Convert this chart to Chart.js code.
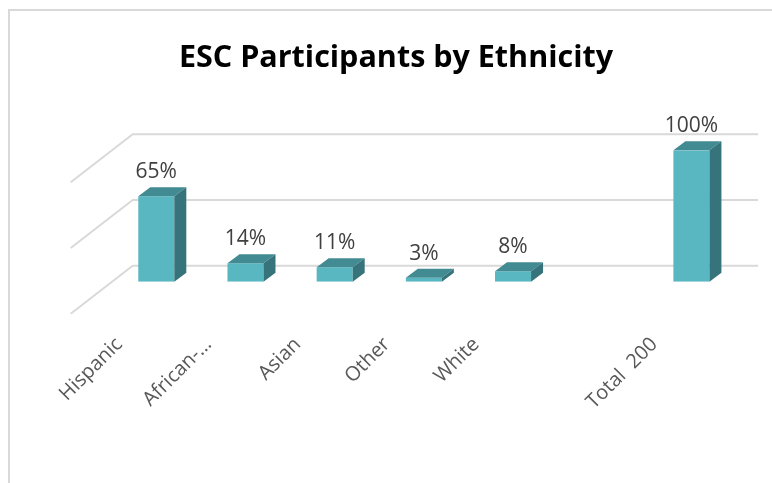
<!DOCTYPE html>
<html>
<head>
<meta charset="utf-8">
<script src="https://cdn.jsdelivr.net/npm/chart.js@4"></script>
<style>
  html, body { margin: 0; padding: 0; background: #fff; }
  #wrap { position: relative; width: 772px; height: 483px; }
  #frame {
    position: absolute; left: 8px; top: 9px; right: 0; bottom: 0;
    border-top: 2px solid #d9d9d9; border-left: 2px solid #d9d9d9;
    pointer-events: none;
  }
</style>
</head>
<body>
<div id="wrap">
  <canvas id="chart" width="772" height="483"></canvas>
  <div id="frame"></div>
</div>
<script>
const categories = ["Hispanic", "African-…", "Asian", "Other", "White", "", "Total  200"];
const percents = [65, 14, 11, 3, 8, null, 100];
const gridValues = [0, 50, 100];

const FRONT = "#58b7c1";
const SIDE = "#37737a";
const TOP = "#438b92";
const DEPTH = { dx: 12, dy: 9 };      // bar depth
const WALL = { dx: 21, dy: 16 };      // back wall behind bar plane
const SIDEWALL = { dx: 62, dy: 48 };  // left wall depth

// back wall gridlines + left wall diagonals
const wallGrid = {
  id: "wallGrid",
  beforeDatasetsDraw(chart) {
    const { ctx, chartArea, scales } = chart;
    const x0 = chartArea.left + WALL.dx;
    const x1 = chartArea.right + 22;
    ctx.save();
    ctx.strokeStyle = "#d9d9d9";
    ctx.lineWidth = 2;
    gridValues.forEach((v) => {
      const y = scales.y.getPixelForValue(v) - WALL.dy;
      ctx.beginPath();
      ctx.moveTo(x0 - SIDEWALL.dx, y + SIDEWALL.dy);
      ctx.lineTo(x0, y);
      ctx.lineTo(x1, y);
      ctx.stroke();
    });
    ctx.restore();
  },
};

// top and side faces, plus value labels
const bars3d = {
  id: "bars3d",
  afterDatasetsDraw(chart) {
    const { ctx } = chart;
    const meta = chart.getDatasetMeta(0);
    ctx.save();
    meta.data.forEach((bar, i) => {
      if (percents[i] == null) return;
      const { x, y, base, width } = bar.getProps(["x", "y", "base", "width"], true);
      const l = x - width / 2;
      const r = x + width / 2;
      ctx.fillStyle = TOP;
      ctx.beginPath();
      ctx.moveTo(l, y);
      ctx.lineTo(l + DEPTH.dx, y - DEPTH.dy);
      ctx.lineTo(r + DEPTH.dx, y - DEPTH.dy);
      ctx.lineTo(r, y);
      ctx.closePath();
      ctx.fill();
      ctx.fillStyle = SIDE;
      ctx.beginPath();
      ctx.moveTo(r, y);
      ctx.lineTo(r + DEPTH.dx, y - DEPTH.dy);
      ctx.lineTo(r + DEPTH.dx, base - DEPTH.dy);
      ctx.lineTo(r, base);
      ctx.closePath();
      ctx.fill();

      ctx.fillStyle = "#404040";
      ctx.font = "21px 'Open Sans'";
      ctx.textAlign = "center";
      ctx.textBaseline = "alphabetic";
      ctx.fillText(percents[i] + "%", x, y - 18);
    });
    ctx.restore();
  },
};

new Chart(document.getElementById("chart"), {
  type: "bar",
  data: {
    labels: categories,
    datasets: [
      {
        data: percents,
        backgroundColor: FRONT,
        borderWidth: 0,
        barPercentage: 0.404,
        categoryPercentage: 1,
      },
    ],
  },
  options: {
    responsive: false,
    animation: false,
    events: [],
    layout: { padding: { top: 10, left: 56, right: 36, bottom: 0 } },
    plugins: {
      legend: { display: false },
      tooltip: { enabled: false },
      title: {
        display: true,
        text: "ESC Participants by Ethnicity",
        color: "#000",
        font: { family: "'Open Sans'", size: 30.5, weight: "bold", lineHeight: 1.2 },
        padding: { top: 29.7, bottom: 74 },
      },
    },
    scales: {
      x: {
        grid: { display: false, drawTicks: false },
        border: { display: false },
        ticks: {
          autoSkip: false,
          maxRotation: 45,
          minRotation: 45,
          labelOffset: -37,
          padding: 51,
          color: "#595959",
          font: { family: "'Open Sans'", size: 20 },
        },
        afterFit(scale) { scale.height = 201.3; },
      },
      y: {
        min: 0,
        max: 100,
        grid: { display: false, drawTicks: false },
        border: { display: false },
        ticks: { display: false, stepSize: 50 },
        afterFit(scale) { scale.width = 55.7; },
      },
    },
  },
  plugins: [wallGrid, bars3d],
});
</script>
</body>
</html>
